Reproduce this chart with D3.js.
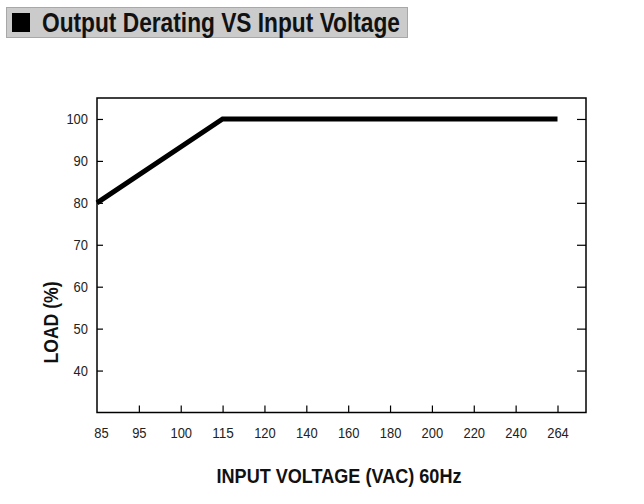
<!DOCTYPE html>
<html>
<head>
<meta charset="utf-8">
<script src="https://cdn.jsdelivr.net/npm/d3@7"></script>
<style>
  html, body { margin: 0; padding: 0; background: #fff; }
  svg { display: block; }
</style>
</head>
<body>
<div id="chart"></div>
<script>
// Data
const voltageTicks = ["85", "95", "100", "115", "120", "140", "160", "180", "200", "220", "240", "264"];
const loadTicks = [40, 50, 60, 70, 80, 90, 100];
const curveVoltage = ["85", "115", "264"];
const curveLoad = [80, 100, 100];

const titleText = "Output Derating VS Input Voltage";
const xTitle = "INPUT VOLTAGE (VAC) 60Hz";
const yTitle = "LOAD (%)";

// Layout
const W = 644, H = 504;
const plot = { left: 97, right: 586, top: 98, bottom: 412.5 };
const font = "'Liberation Sans', Arial, sans-serif";
const digitW = 7.2; // narrow face: squeeze the glyphs to this width per char

const svg = d3.select("#chart").append("svg")
  .attr("width", W)
  .attr("height", H)
  .style("font-family", font);

// Title bar
svg.append("rect")
  .attr("x", 6.5).attr("y", 7.5)
  .attr("width", 401).attr("height", 30)
  .attr("fill", "#cbcbcb")
  .attr("stroke", "#a8a8a8")
  .attr("stroke-width", 1);

svg.append("rect")
  .attr("x", 12).attr("y", 13)
  .attr("width", 18).attr("height", 19)
  .attr("fill", "#000");

svg.append("text")
  .attr("x", 42).attr("y", 32)
  .attr("font-size", 27)
  .attr("font-weight", "bold")
  .attr("fill", "#111")
  .attr("textLength", 358)
  .attr("lengthAdjust", "spacingAndGlyphs")
  .text(titleText);

// Scales
const x = d3.scalePoint()
  .domain(voltageTicks)
  .range([plot.left, 557.5]);

const y = d3.scaleLinear()
  .domain([30, 105])
  .range([plot.bottom, plot.top]);

// Frame
svg.append("rect")
  .attr("x", plot.left).attr("y", plot.top)
  .attr("width", plot.right - plot.left)
  .attr("height", plot.bottom - plot.top)
  .attr("fill", "none")
  .attr("stroke", "#000")
  .attr("stroke-width", 1.5);

// Bottom axis: inward ticks
const xAxis = d3.axisBottom(x)
  .tickSizeInner(-7)
  .tickSizeOuter(0)
  .tickPadding(15);

const xg = svg.append("g")
  .attr("transform", `translate(0,${plot.bottom})`)
  .call(xAxis);
xg.select(".domain").remove();
xg.selectAll(".tick line").attr("stroke", "#000").attr("stroke-width", 1.2);
xg.selectAll(".tick text")
  .attr("font-size", 15)
  .attr("font-family", font)
  .attr("fill", "#222")
  .attr("textLength", d => d.length * digitW)
  .attr("lengthAdjust", "spacingAndGlyphs")
  .attr("dx", d => d === "85" ? 4 : 0);
xg.selectAll(".tick").filter(d => d === "85").select("line").remove();

// Left axis: inward ticks
const yAxis = d3.axisLeft(y)
  .tickValues(loadTicks)
  .tickSizeInner(-6)
  .tickSizeOuter(0)
  .tickPadding(9);

const yg = svg.append("g")
  .attr("transform", `translate(${plot.left},0)`)
  .call(yAxis);
yg.select(".domain").remove();
yg.selectAll(".tick line").attr("stroke", "#000").attr("stroke-width", 1.2);
yg.selectAll(".tick text")
  .attr("font-size", 15)
  .attr("font-family", font)
  .attr("fill", "#222")
  .attr("textLength", d => String(d).length * digitW)
  .attr("lengthAdjust", "spacingAndGlyphs");

// Right axis: inward ticks, no labels
const yAxisR = d3.axisRight(y)
  .tickValues(loadTicks)
  .tickSizeInner(-9)
  .tickSizeOuter(0)
  .tickFormat("");

const yr = svg.append("g")
  .attr("transform", `translate(${plot.right},0)`)
  .call(yAxisR);
yr.select(".domain").remove();
yr.selectAll(".tick line").attr("stroke", "#000").attr("stroke-width", 1.2);

// Derating curve
const points = curveVoltage.map((v, i) => ({ v, load: curveLoad[i] }));
const line = d3.line()
  .x(d => x(d.v))
  .y(d => y(d.load));

svg.append("path")
  .datum(points)
  .attr("d", line)
  .attr("fill", "none")
  .attr("stroke", "#000")
  .attr("stroke-width", 5)
  .attr("stroke-linejoin", "miter");

// Axis titles
svg.append("text")
  .attr("x", 339).attr("y", 483)
  .attr("text-anchor", "middle")
  .attr("font-size", 20)
  .attr("font-weight", "bold")
  .attr("fill", "#111")
  .attr("textLength", 245)
  .attr("lengthAdjust", "spacingAndGlyphs")
  .text(xTitle);

svg.append("text")
  .attr("transform", `translate(58,322.5) rotate(-90)`)
  .attr("text-anchor", "middle")
  .attr("font-size", 20)
  .attr("font-weight", "bold")
  .attr("fill", "#111")
  .attr("textLength", 82)
  .attr("lengthAdjust", "spacingAndGlyphs")
  .text(yTitle);
</script>
</body>
</html>
